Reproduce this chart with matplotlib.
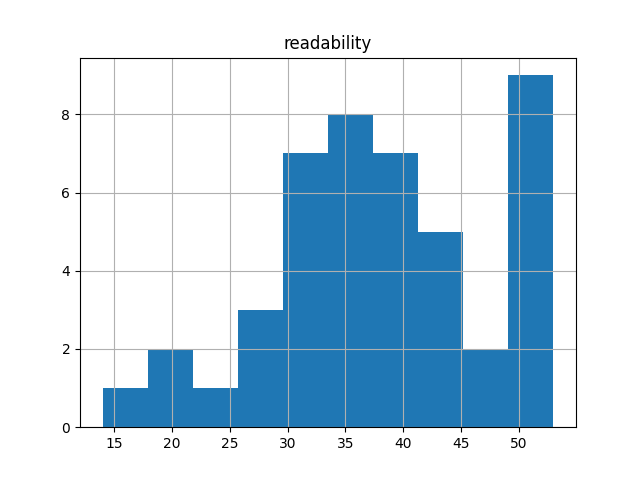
import matplotlib
matplotlib.use("Agg")
import matplotlib.pyplot as plt
import pandas as pd

readability = [14,
               19, 21,
               24,
               26, 27, 29,
               30, 31, 31, 32, 32, 33, 33,
               34, 34, 35, 35, 36, 36, 37, 37,
               38, 38, 39, 39, 40, 41, 41,
               42, 43, 44, 44, 45,
               46, 48,
               50, 50, 51, 51, 52, 52, 53, 53, 53]

df = pd.DataFrame({"readability": readability})
fig, ax = plt.subplots(figsize=(6.4, 4.8), dpi=100)
df.hist(column="readability", bins=10, ax=ax)
fig.savefig("out.png")
